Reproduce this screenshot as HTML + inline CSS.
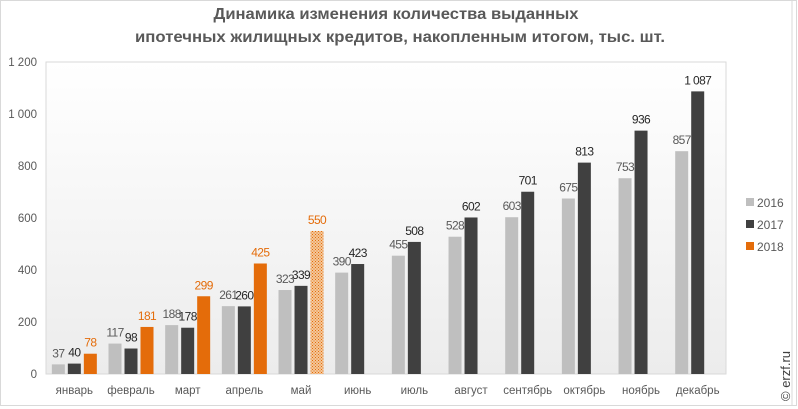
<!DOCTYPE html>
<html><head><meta charset="utf-8">
<style>
html,body{margin:0;padding:0;background:#fff;}
svg{display:block;font-family:"Liberation Sans",sans-serif;}
</style></head>
<body>
<svg id="c" width="798" height="409" viewBox="0 0 798 409" xmlns="http://www.w3.org/2000/svg">
<defs>
<linearGradient id="bg" x1="0" y1="0" x2="0" y2="1">
<stop offset="0" stop-color="#ffffff"/><stop offset="1" stop-color="#ececec"/>
</linearGradient>
<pattern id="hatch" width="3" height="3" patternUnits="userSpaceOnUse">
<rect width="3" height="3" fill="#f3c79a"/>
<rect width="1" height="1" fill="#e46c0a"/><rect x="1.5" y="1.5" width="1" height="1" fill="#e46c0a"/>
</pattern>
</defs>
<rect x="0.5" y="0.5" width="796" height="405" fill="#fff" stroke="#d9d9d9"/>
<line x1="792" y1="0" x2="792" y2="406" stroke="#d9d9d9"/>
<rect x="46" y="62" width="680" height="312" fill="url(#bg)" stroke="#d9d9d9"/>
<text x="396" y="19" text-anchor="middle" font-size="16" font-weight="bold" fill="#595959" textLength="365" lengthAdjust="spacingAndGlyphs">Динамика изменения количества выданных</text>
<text x="400" y="42" text-anchor="middle" font-size="16" font-weight="bold" fill="#595959" textLength="530" lengthAdjust="spacingAndGlyphs">ипотечных жилищных кредитов, накопленным итогом, тыс. шт.</text>
<g id="g"></g>
<g font-size="12" fill="#595959">
<rect x="746" y="198" width="8" height="8" fill="#bfbfbf"/><text x="757" y="207">2016</text>
<rect x="746" y="220" width="8" height="8" fill="#404040"/><text x="757" y="229">2017</text>
<rect x="746" y="242" width="8" height="8" fill="#e46c0a"/><text x="757" y="251">2018</text>
</g>
<text transform="translate(790,401) rotate(-90)" font-size="13" fill="#404040">© erzf.ru</text>
</svg>
<script>
var g=document.getElementById('g'),s='';
var y=function(v){return 374-v*0.26;};
for(var t=0;t<=1200;t+=200){
 s+='<text x="37" y="'+(y(t)+4)+'" text-anchor="end" font-size="11.5" fill="#595959">'+(t>=1000?'1 '+String(t).slice(1):t)+'</text>';
}
var m=['январь','февраль','март','апрель','май','июнь','июль','август','сентябрь','октябрь','ноябрь','декабрь'];
var a=[37,117,188,261,323,390,455,528,603,675,753,857];
var b=[40,98,178,260,339,423,508,602,701,813,936,1087];
var c=[78,181,299,425,550];
var cols=['#bfbfbf','#404040','#e46c0a'],tc=['#595959','#262626','#e46c0a'];
for(var i=0;i<12;i++){
 var cx=46+56.67*(i+0.5);
 s+='<text x="'+cx+'" y="394" text-anchor="middle" font-size="11.5" fill="#595959">'+m[i]+'</text>';
 var vals=[a[i],b[i],c[i]];
 for(var k=0;k<3;k++){
  var v=vals[k]; if(v===undefined)continue;
  var bx=cx+(k-1)*16-6.5, by=y(v);
  var fill=(k==2&&i==4)?'url(#hatch)':cols[k];
  s+='<rect x="'+bx+'" y="'+by+'" width="13" height="'+(374-by)+'" fill="'+fill+'"/>';
  var lab=v>=1000?'1 '+String(v).slice(1):v;
  s+='<text x="'+(bx+6.5)+'" y="'+(by-7)+'" text-anchor="middle" font-size="12" letter-spacing="-0.6" fill="'+tc[k]+'">'+lab+'</text>';
 }
}
g.innerHTML=s;
</script>
</body></html>
